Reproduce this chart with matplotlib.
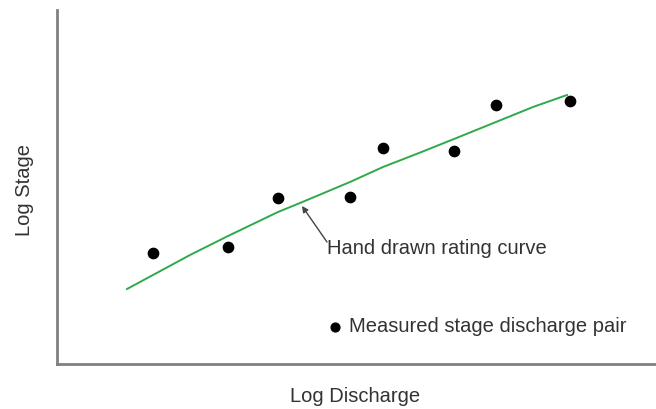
import numpy as np
import matplotlib.pyplot as plt

plt.switch_backend('agg')
plt.rcParams['font.family'] = ['Liberation Sans', 'DejaVu Sans']

# measured stage-discharge pairs (arbitrary log units)
discharge = [96, 171, 221, 293, 326, 397, 439, 513]
stage = [111, 117, 166, 167, 216, 213, 259, 263]

# hand drawn rating curve
curve_q = [70, 96, 133, 171, 221, 243, 293, 326, 362, 397, 439, 476, 510]
curve_h = [75, 89, 109, 128, 152, 161, 182, 197, 211, 225, 242, 257, 269]

fig = plt.figure(figsize=(6.56, 4.09), dpi=100)
ax = fig.add_axes([57 / 656, 45 / 409, 598 / 656, 354 / 409])

ax.plot(curve_q, curve_h, color='#2eaa4a', lw=1.4, zorder=2,
        solid_joinstyle='round')
ax.scatter(discharge, stage, s=55, color='black', zorder=3)

ax.annotate('', xy=(245, 158), xytext=(270, 122),
            arrowprops=dict(arrowstyle='-|>', color='#444444', lw=1.0,
                            mutation_scale=9, shrinkA=0, shrinkB=0))
ax.text(270, 116, 'Hand drawn rating curve', fontsize=14.5,
        color='#333333', va='center', ha='left')

ax.scatter([278], [37], s=40, color='black', zorder=3)
ax.text(292, 37, 'Measured stage discharge pair', fontsize=14.5,
        color='#333333', va='center', ha='left')

ax.set_xlim(0, 598)
ax.set_ylim(0, 354)
ax.set_xticks([])
ax.set_yticks([])
for side in ['top', 'right']:
    ax.spines[side].set_visible(False)
for side in ['left', 'bottom']:
    ax.spines[side].set_color('#808080')
    ax.spines[side].set_linewidth(2)

fig.text(355 / 656, 1 - 397 / 409, 'Log Discharge', fontsize=14.5,
         color='#333333', ha='center', va='center')
fig.text(24 / 656, 1 - 190 / 409, 'Log Stage', fontsize=14.5,
         color='#333333', ha='center', va='center', rotation=90)

plt.savefig('out.png', dpi=100)
